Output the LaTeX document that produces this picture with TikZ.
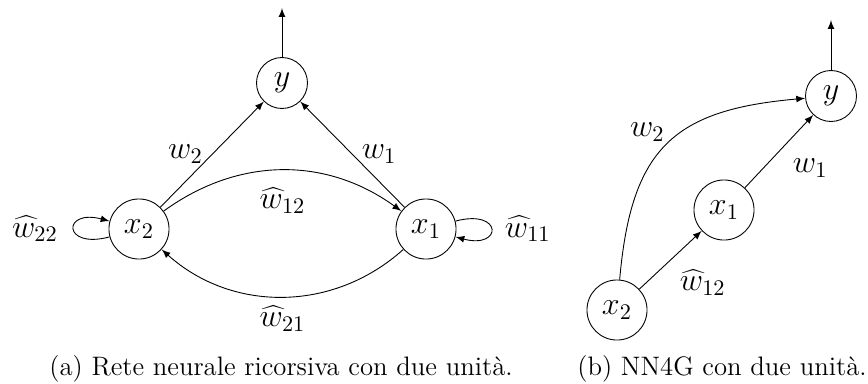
\documentclass[12pt,tikz,border=0pt]{standalone}
\begin{document}
\begin{tikzpicture}[x=0.4493pt,y=0.4493pt,
  every node/.style={font=\large},
  neuron/.style={draw,circle},
  conn/.style={-latex},
  captext/.style={font=\normalsize,anchor=base}]
\useasboundingbox (0,0) rectangle (868,-383);
% panel (a)
\node[neuron] (ya) at (282,-83) {$y$};
\node[neuron] (x2a) at (139,-229) {$x_2$};
\node[neuron] (x1a) at (426,-229) {$x_1$};
\coordinate (oa) at (282,-8);
\draw[conn] (ya) -- (oa);
\draw[conn] (x2a) -- node[midway,left] {$w_2$} (ya);
\draw[conn] (x1a) -- node[midway,right] {$w_1$} (ya);
\draw[conn] (x2a) to[bend left=36] node[midway,below,yshift=-3.5pt] {$\widehat{w}_{12}$} (x1a);
\draw[conn] (x1a) to[bend left=42] node[midway,below] {$\widehat{w}_{21}$} (x2a);
\draw[conn] (x2a) to[loop left] node[left,xshift=-3pt] {$\widehat{w}_{22}$} (x2a);
\draw[conn] (x1a) to[loop right] node[right,xshift=2pt] {$\widehat{w}_{11}$} (x1a);
% panel (b)
\node[neuron] (yb) at (831,-96) {$y$};
\node[neuron] (x1b) at (724,-210) {$x_1$};
\node[neuron] (x2b) at (617,-310) {$x_2$};
\coordinate (ob) at (831,-20);
\draw[conn] (yb) -- (ob);
\draw[conn] (x2b) -- node[midway,below right] {$\widehat{w}_{12}$} (x1b);
\draw[conn] (x1b) -- node[midway,below right,xshift=2pt,yshift=1pt] {$w_1$} (yb);
\draw[conn] (x2b) to[out=85,in=185,looseness=1.3] node[pos=0.5,above left,inner sep=1pt] {$w_2$} (yb);
% captions
\node[captext] (capa) at (281,-375) {(a) Rete neurale ricorsiva con due unità.};
\node[captext] (capb) at (722,-375) {(b) NN4G con due unità.};
\end{tikzpicture}
\end{document}
